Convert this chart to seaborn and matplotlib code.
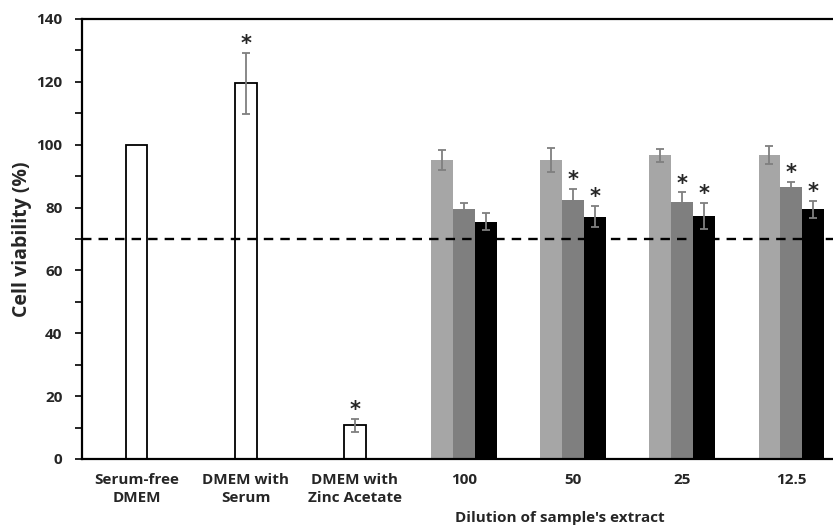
import pandas as pd
import matplotlib
matplotlib.use("Agg")
import matplotlib.pyplot as plt
from matplotlib.ticker import MultipleLocator
import seaborn as sns

# categories on the x axis
controls = ["Serum-free\nDMEM", "DMEM with\nSerum", "DMEM with\nZinc Acetate"]
dilutions = ["100", "50", "25", "12.5"]
order = controls + dilutions

# control wells (white bars)
control_mean = [100, 119.5, 10.7]
control_sd = [0, 9.7, 2.0]
control_star = [False, True, True]

# three extract series per dilution
series = ["Series 1", "Series 2", "Series 3"]
s1_mean = [95.1, 95.1, 96.6, 96.7]
s1_sd = [3.2, 3.8, 2.1, 2.9]
s2_mean = [79.6, 82.5, 81.8, 86.6]
s2_sd = [1.9, 3.5, 3.1, 1.5]
s3_mean = [75.5, 77.1, 77.3, 79.4]
s3_sd = [2.7, 3.4, 4.2, 2.7]
s1_star = [False, False, False, False]
s2_star = [False, True, True, True]
s3_star = [False, True, True, True]

colors = ["#a6a6a6", "#7f7f7f", "#000000"]

sns.set_style("white")
plt.rcParams["font.family"] = ["Open Sans", "DejaVu Sans"]
plt.rcParams["font.weight"] = "bold"

fig = plt.figure(figsize=(8.33, 5.26), dpi=100)
ax = fig.add_axes([0.0984, 0.1274, 0.917, 0.8365])

# controls
n0 = len(ax.patches)
sns.barplot(x=controls, y=control_mean, order=order, color="white",
            edgecolor="black", linewidth=1.3, width=0.2, saturation=1, ax=ax)
ctrl_patches = ax.patches[n0:]

# extracts
rows = []
for name, means in zip(series, [s1_mean, s2_mean, s3_mean]):
    for d, m in zip(dilutions, means):
        rows.append({"dilution": d, "series": name, "value": m})
df = pd.DataFrame(rows)

n1 = len(ax.patches)
sns.barplot(data=df, x="dilution", y="value", hue="series", order=order,
            hue_order=series, palette=colors, width=0.6, saturation=1,
            errorbar=None, legend=False, linewidth=0, ax=ax)
ext_patches = ax.patches[n1:]

err_kw = dict(fmt="none", ecolor="#7f7f7f", elinewidth=1.3, capsize=3, capthick=1.3, zorder=5)


def add_err(p, sd, star):
    cx = p.get_x() + p.get_width() / 2
    top = p.get_height()
    if sd > 0:
        ax.errorbar([cx], [top], yerr=[sd], **err_kw)
    if star:
        ax.annotate("*", (cx, top + sd), xytext=(0, -1), textcoords="offset points",
                    ha="center", va="bottom", fontsize=15, fontweight="bold",
                    family="DejaVu Sans")


for p, sd, st in zip(sorted(ctrl_patches, key=lambda q: q.get_x()), control_sd, control_star):
    add_err(p, sd, st)

sds = [s1_sd, s2_sd, s3_sd]
stars = [s1_star, s2_star, s3_star]
groups = {}
for p in ext_patches:
    cx = p.get_x() + p.get_width() / 2
    groups.setdefault(int(round(cx)), []).append(p)
for pos, plist in groups.items():
    j = dilutions.index(order[pos])
    for k, p in enumerate(sorted(plist, key=lambda q: q.get_x())):
        add_err(p, sds[k][j], stars[k][j])

ax.axhline(70, color="black", lw=1.7, ls=(0, (4, 3)), zorder=6)

ax.set_ylim(0, 140)
ax.set_xlim(-0.5, 6.5)
ax.yaxis.set_major_locator(MultipleLocator(20))
ax.yaxis.set_minor_locator(MultipleLocator(10))
ax.tick_params(axis="y", which="both", direction="out", length=5, width=1.2,
               left=True, labelsize=11, pad=9, color="black")
ax.tick_params(axis="x", length=0, labelsize=11, pad=10)
for lab in ax.get_xticklabels() + ax.get_yticklabels():
    lab.set_fontweight("bold")
    lab.set_linespacing(1.35)

ax.set_xlabel("Dilution of sample's extract", fontsize=11, fontweight="bold")
ax.xaxis.set_label_coords(0.626, -0.118)
ax.set_ylabel("Cell viability (%)", fontsize=14, fontweight="bold")
ax.yaxis.set_label_coords(-0.065, 0.5)

for s in ["left", "top", "bottom"]:
    ax.spines[s].set_linewidth(1.6)
    ax.spines[s].set_color("black")
ax.spines["right"].set_visible(False)

fig.savefig("out.png", dpi=100)
